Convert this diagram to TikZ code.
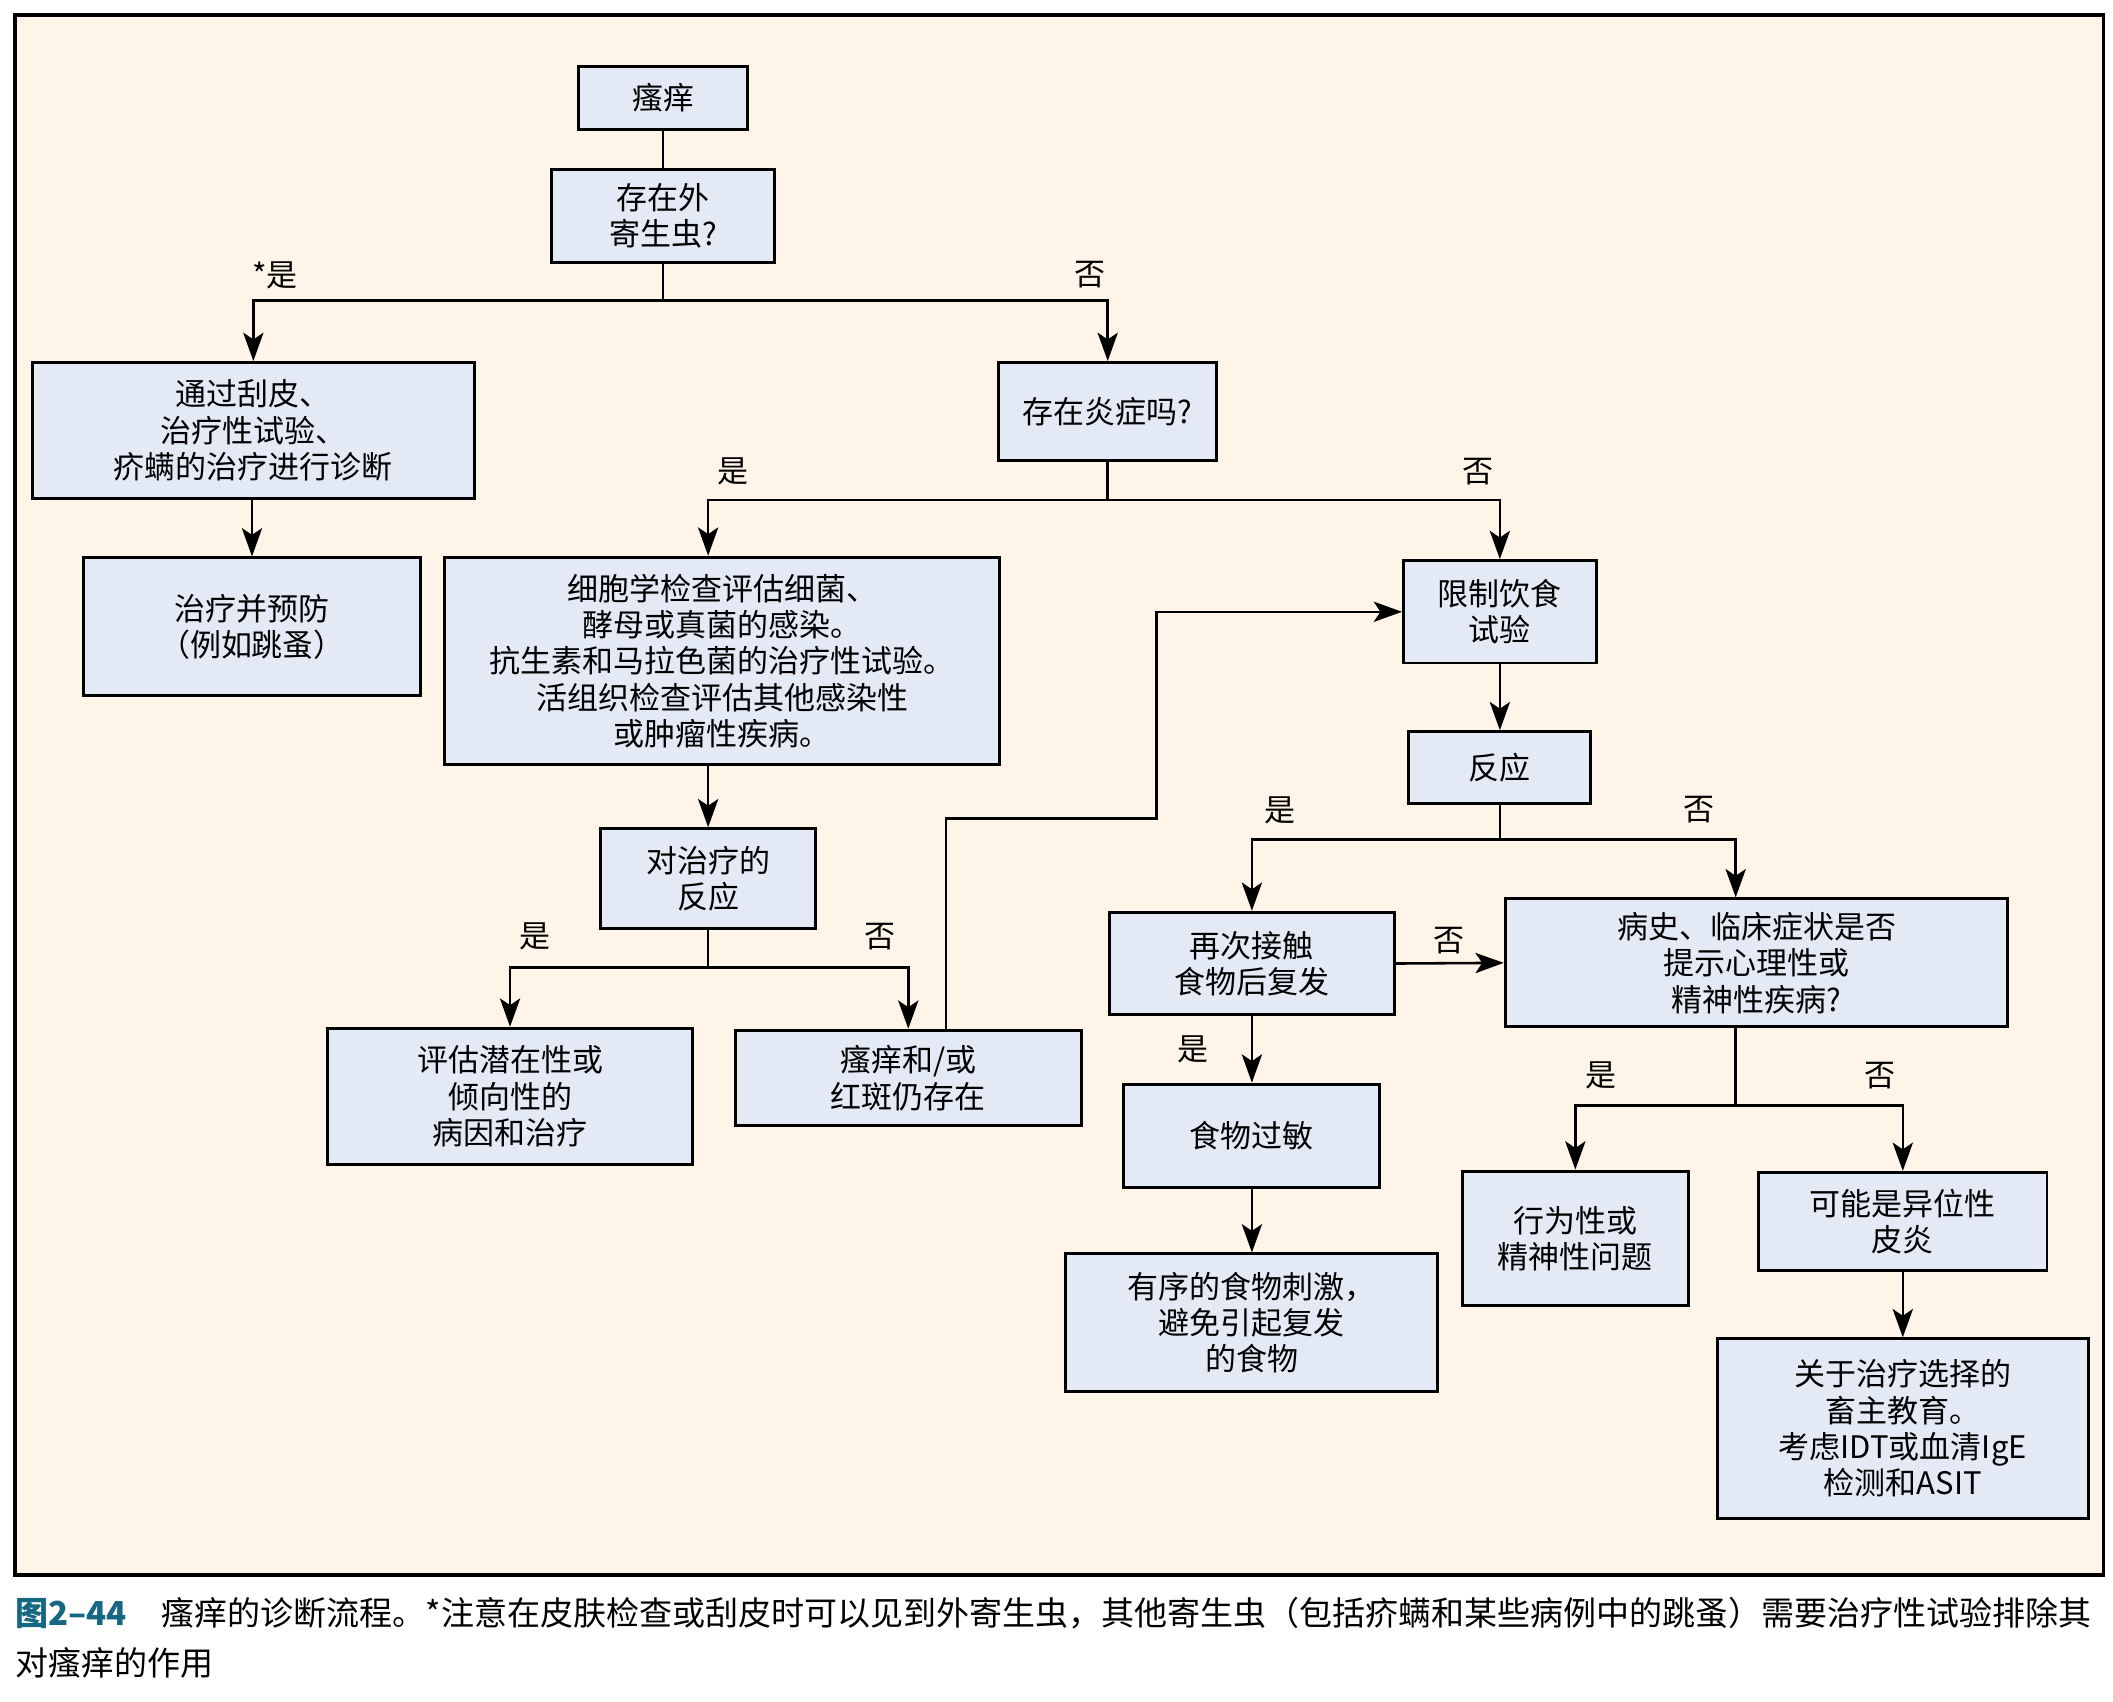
\documentclass[tikz,border=0pt]{standalone}
\usepackage{fontspec}
\usepackage{xcolor}
\setmainfont{Noto Sans CJK SC}
\usetikzlibrary{arrows.meta}

\definecolor{bgcream}{RGB}{254,244,232}
\definecolor{boxblue}{RGB}{227,234,245}
\definecolor{figteal}{RGB}{22,104,130}

\tikzset{
  box/.style={rectangle, draw=black, fill=boxblue, line width=2.2pt, inner sep=0pt,
    align=center, font=\fontsize{23}{27}\selectfont},
  wh/.style 2 args={minimum width=#1pt, minimum height=#2pt},
  conn/.style={draw=black, line width=1.9pt},
  arr/.style={conn, -{Stealth[length=21pt, width=15pt, inset=5pt]}},
  lab/.style={inner sep=0pt, font=\fontsize{23}{27}\selectfont},
  captext/.style={inner sep=0pt, anchor=west, font=\fontsize{24.5}{30}\selectfont}
}

\begin{document}
\begin{tikzpicture}[x=1pt, y=1pt]
\useasboundingbox [fill=white] (0, 0) rectangle (1568, -1263);
\draw [fill=bgcream, line width=2.8pt] (11, -11) rectangle (1561, -1169);

\node [box, wh={126}{47}] (itch) at (492, -72.5) {瘙痒};
\node [box, wh={166}{69}] (ecto) at (492, -160) {存在外\\寄生虫?};
\node [box, wh={328}{101}] (scrape) at (188, -319.5) {通过刮皮、\\治疗性试验、\\疥螨的治疗进行诊断};
\node [box, wh={162}{73}] (inflam) at (822, -305.5) {存在炎症吗?};
\node [box, wh={250}{102}] (treat) at (187, -465) {治疗并预防\\（例如跳蚤）};
\node [box, wh={412}{154}] (cyto) at (536, -490.5) {细胞学检查评估细菌、\\酵母或真菌的感染。\\抗生素和马拉色菌的治疗性试验。\\活组织检查评估其他感染性\\或肿瘤性疾病。};
\node [box, wh={160}{74}] (resp1) at (525.5, -652) {对治疗的\\反应};
\node [box, wh={271}{101}] (eval) at (378.5, -813.5) {评估潜在性或\\倾向性的\\病因和治疗};
\node [box, wh={257}{71}] (persist) at (674, -800) {瘙痒和/或\\红斑仍存在};
\node [box, wh={143}{76}] (diet) at (1113, -454) {限制饮食\\试验};
\node [box, wh={135}{53}] (resp2) at (1113, -569.5) {反应};
\node [box, wh={212}{76}] (rechal) at (929, -715) {再次接触\\食物后复发};
\node [box, wh={373}{95}] (hist) at (1303.5, -714.5) {病史、临床症状是否\\提示心理性或\\精神性疾病?};
\node [box, wh={190}{77}] (allergy) at (929, -843) {食物过敏};
\node [box, wh={276}{102}] (avoid) at (929, -981.5) {有序的食物刺激，\\避免引起复发\\的食物};
\node [box, wh={168}{100}] (behav) at (1169, -919) {行为性或\\精神性问题};
\node [box, wh={214}{73}] (atopic) at (1412, -906.5) {可能是异位性\\皮炎};
\node [box, wh={275}{133}] (educ) at (1412, -1060) {关于治疗选择的\\畜主教育。\\考虑IDT或血清IgE\\检测和ASIT};

\coordinate (j1) at (492, -223);
\coordinate (j2) at (822, -371);
\coordinate (j3) at (525.5, -718);
\coordinate (j4) at (1113, -623);
\coordinate (hx) at (1288, 0);
\coordinate (j5) at (1288, -820.5);
\coordinate (up1) at (702, -607.5);
\coordinate (up2) at (858, -454);

\draw [conn] (itch) -- (ecto);
\draw [conn] (ecto) -- (j1);
\draw [arr] (j1) -| (scrape.north);
\draw [arr] (j1) -| (inflam.north);
\draw [arr] (scrape.south -| treat.north) -- (treat.north);
\draw [conn] (inflam) -- (j2);
\draw [arr] (j2) -| (cyto.north -| resp1.north);
\draw [arr] (j2) -| (diet.north);
\draw [arr] (cyto.south -| resp1.north) -- (resp1.north);
\draw [conn] (resp1) -- (j3);
\draw [arr] (j3) -| (eval.north);
\draw [arr] (j3) -| (persist.north);
\draw [arr] (persist.north -| up1) -- (up1) -| (up2) -- (diet.west);
\draw [arr] (diet) -- (resp2);
\draw [conn] (resp2) -- (j4);
\draw [arr] (j4) -| (rechal.north);
\draw [arr] (j4) -| (hist.north -| hx);
\draw [arr] (rechal.east) -- (hist.west);
\draw [arr] (rechal) -- (allergy);
\draw [arr] (allergy) -- (avoid);
\draw [conn] (hist.south -| hx) -- (j5);
\draw [arr] (j5) -| (behav.north);
\draw [arr] (j5) -| (atopic.north);
\draw [arr] (atopic) -- (educ);

\node [lab] (yes1) at (204, -204) {*是};
\node [lab] (no1) at (809, -204) {否};
\node [lab] (yes2) at (544, -350) {是};
\node [lab] (no2) at (1097, -350) {否};
\node [lab] (yes3) at (397, -695) {是};
\node [lab] (no3) at (653, -695) {否};
\node [lab] (yes4) at (950, -601) {是};
\node [lab] (no4) at (1261, -601) {否};
\node [lab] (no5) at (1075, -698) {否};
\node [lab] (yes5) at (885, -779) {是};
\node [lab] (yes6) at (1188, -798) {是};
\node [lab] (no6) at (1395, -798) {否};

\node [captext] (cap1) at (11, -1197) {{\bfseries\color{figteal}图2–44}\hspace{26pt}瘙痒的诊断流程。*注意在皮肤检查或刮皮时可以见到外寄生虫，其他寄生虫（包括疥螨和某些病例中的跳蚤）需要治疗性试验排除其};
\node [captext] (cap2) at (11, -1234) {对瘙痒的作用};
\end{tikzpicture}
\end{document}
